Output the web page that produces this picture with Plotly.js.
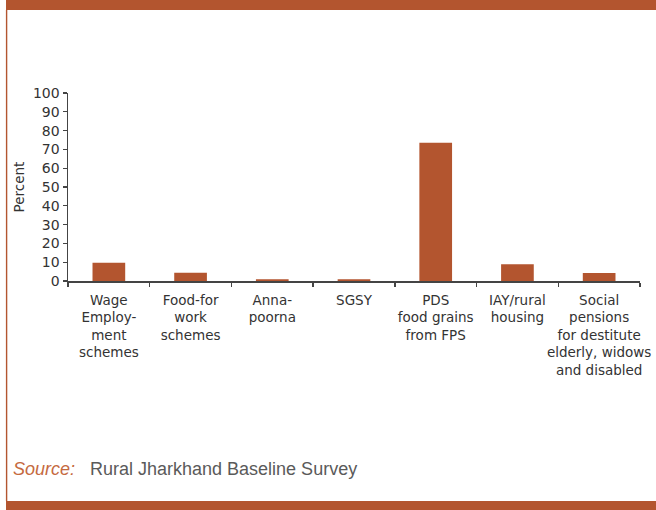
<!DOCTYPE html>
<html>
<head>
<meta charset="utf-8">
<script src="https://cdn.plot.ly/plotly-3.0.1.min.js"></script>
<style>
  html, body { margin: 0; padding: 0; background: #ffffff; }
  #chart { width: 656px; height: 510px; }
</style>
</head>
<body>
<div id="chart"></div>
<script>
// Data
var categories = [
  "Wage<br>Employ-<br>ment<br>schemes",
  "Food-for<br>work<br>schemes",
  "Anna-<br>poorna",
  "SGSY",
  "PDS<br>food grains<br>from FPS",
  "IAY/rural<br>housing",
  "Social<br>pensions<br>for destitute<br>elderly, widows<br>and disabled"
];
var percentValues = [9.7, 4.4, 0.9, 0.9, 73.5, 8.9, 4.2];
var yTickValues = [0, 10, 20, 30, 40, 50, 60, 70, 80, 90, 100];
var yAxisTitle = "Percent";
var sourceLabel = "Source:";
var sourceText = "Rural Jharkhand Baseline Survey";

var orange = "#B3552F";
var axisFont = { family: "DejaVu Sans, sans-serif", size: 13.5, color: "#333333" };
var yTickFont = { family: "DejaVu Sans, sans-serif", size: 14, color: "#333333" };

// plot area in pixels (for the decorative frame)
var W = 656, H = 510;
var m = { l: 68, r: 16, t: 93, b: 229 };
var pw = W - m.l - m.r, ph = H - m.t - m.b;
function px(x) { return (x - m.l) / pw; }
function py(y) { return (H - m.b - y) / ph; }

var trace = {
  type: "bar",
  x: categories,
  y: percentValues,
  marker: { color: orange, line: { width: 0 } },
  hoverinfo: "none"
};

var layout = {
  width: W,
  height: H,
  margin: m,
  paper_bgcolor: "#ffffff",
  plot_bgcolor: "#ffffff",
  showlegend: false,
  bargap: 0.6,
  font: axisFont,
  xaxis: {
    type: "category",
    tickson: "boundaries",
    ticks: "outside",
    ticklen: 4,
    tickwidth: 1.3,
    tickcolor: "#444444",
    showline: true,
    linecolor: "#444444",
    linewidth: 1.5,
    showgrid: false,
    zeroline: false,
    tickangle: 0,
    ticklabelstandoff: 6,
    tickfont: axisFont,
    fixedrange: true
  },
  yaxis: {
    range: [0, 100],
    tickvals: yTickValues,
    ticks: "outside",
    ticklen: 4,
    tickwidth: 1.3,
    tickcolor: "#444444",
    showline: true,
    linecolor: "#444444",
    linewidth: 1.5,
    showgrid: false,
    zeroline: false,
    tickfont: yTickFont,
    title: { text: yAxisTitle, font: axisFont, standoff: 5 },
    fixedrange: true
  },
  shapes: [
    { type: "rect", xref: "paper", yref: "paper", x0: px(6), x1: px(660), y0: py(10), y1: py(-5),
      fillcolor: orange, line: { width: 0 }, layer: "above" },
    { type: "line", xref: "paper", yref: "paper", x0: px(6.6), x1: px(6.6), y0: py(10), y1: py(501),
      line: { color: orange, width: 1.4 } },
    { type: "rect", xref: "paper", yref: "paper", x0: px(6), x1: px(660), y0: py(501), y1: py(515),
      fillcolor: orange, line: { width: 0 } }
  ],
  annotations: [
    { xref: "paper", yref: "paper", x: px(11), y: py(469), xanchor: "left", yanchor: "middle",
      text: "<i>" + sourceLabel + "</i>", showarrow: false,
      font: { family: "Liberation Sans, Arial, sans-serif", size: 18, color: "#C56A3F" } },
    { xref: "paper", yref: "paper", x: px(88), y: py(469), xanchor: "left", yanchor: "middle",
      text: sourceText, showarrow: false,
      font: { family: "Liberation Sans, Arial, sans-serif", size: 18, color: "#5a5a5a" } }
  ]
};

Plotly.newPlot("chart", [trace], layout, { displayModeBar: false, staticPlot: true });
</script>
</body>
</html>
